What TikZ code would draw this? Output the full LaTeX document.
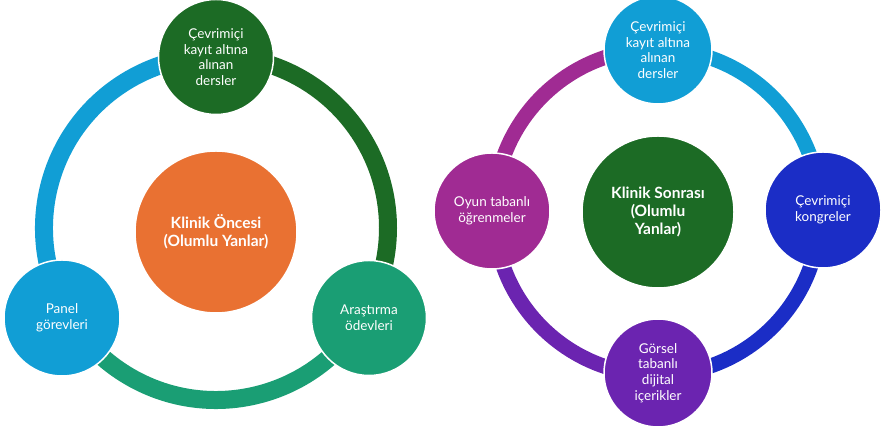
\documentclass[tikz,border=0pt]{standalone}
\usepackage{fontspec}
\setmainfont{Lato}
\begin{document}
\begin{tikzpicture}[x=1pt,y=1pt,
  bub/.style={circle, draw=white, line width=1.5pt, text=white, align=center, inner sep=0pt,
    font=\fontsize{13.5}{15.7}\selectfont},
  hub/.style={bub, font=\bfseries\fontsize{15.5}{17.8}\selectfont},
  ringL/.style={line width=18pt},
  ringR/.style={line width=15pt}]
\definecolor{dgreen}{RGB}{28,107,37}
\definecolor{orng}{RGB}{233,113,50}
\definecolor{lblue}{RGB}{17,158,213}
\definecolor{teal2}{RGB}{26,158,116}
\definecolor{dblue}{RGB}{27,45,198}
\definecolor{violet2}{RGB}{107,36,176}
\definecolor{magenta2}{RGB}{160,43,147}
\useasboundingbox (0,0) rectangle (881,427);
% ---------- left cycle ----------
\coordinate (Lc) at (216,199);
\draw[ringL, dgreen] ([shift={(90:172)}]Lc) arc[start angle=90, end angle=-30, radius=172];
\draw[ringL, teal2] ([shift={(-30:172)}]Lc) arc[start angle=-30, end angle=-150, radius=172];
\draw[ringL, lblue] ([shift={(210:172)}]Lc) arc[start angle=210, end angle=90, radius=172];
\node[hub, fill=orng, minimum size=162pt] (Lmid) at (216,195) {Klinik Öncesi\\(Olumlu Yanlar)};
\node[bub, fill=dgreen, minimum size=115pt] (Ltop) at (216,370) {Çevrimiçi\\kayıt altına\\alınan\\dersler};
\node[bub, fill=lblue, minimum size=116pt] (Lleft) at (62,109) {Panel\\görevleri};
\node[bub, fill=teal2, minimum size=115pt] (Lright) at (369,109) {Araştırma\\ödevleri};
% ---------- right cycle ----------
\coordinate (Rc) at (657,215);
\draw[ringR, lblue] ([shift={(90:163)}]Rc) arc[start angle=90, end angle=0, radius=163];
\draw[ringR, dblue] ([shift={(0:163)}]Rc) arc[start angle=0, end angle=-90, radius=163];
\draw[ringR, violet2] ([shift={(-90:163)}]Rc) arc[start angle=-90, end angle=-180, radius=163];
\draw[ringR, magenta2] ([shift={(180:163)}]Rc) arc[start angle=180, end angle=90, radius=163];
\node[hub, fill=dgreen, minimum size=152pt] (Rmid) at (658,215) {Klinik Sonrası\\(Olumlu\\Yanlar)};
\node[bub, fill=lblue, minimum size=108pt] (Rtop) at (658,377) {Çevrimiçi\\kayıt altına\\alınan\\dersler};
\node[bub, fill=dblue, minimum size=116pt] (Rright) at (823,217) {Çevrimiçi\\kongreler};
\node[bub, fill=violet2, minimum size=108pt] (Rbot) at (658,54) {Görsel\\tabanlı\\dijital\\içerikler};
\node[bub, fill=magenta2, minimum size=116pt] (Rleft) at (492,216) {Oyun tabanlı\\öğrenmeler};
\end{tikzpicture}
\end{document}
